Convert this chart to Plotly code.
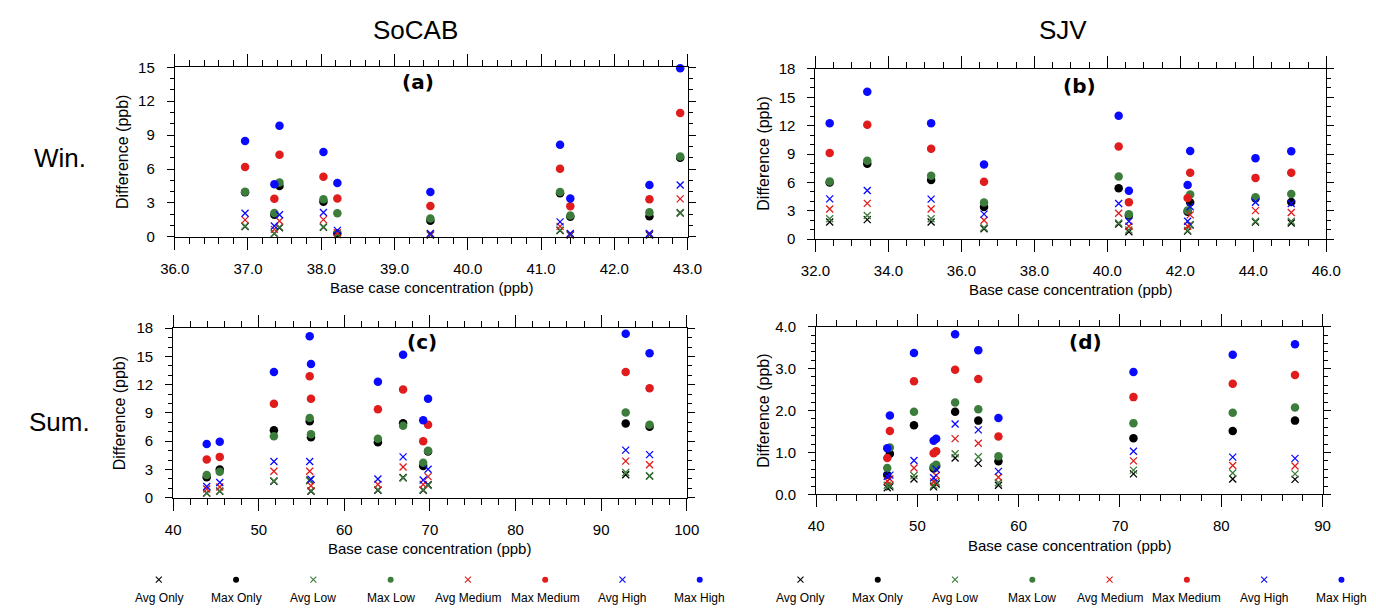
import plotly.graph_objects as go

# ---------------- data ----------------
series_names = ["Avg Only", "Max Only", "Avg Low", "Max Low",
                "Avg Medium", "Max Medium", "Avg High", "Max High"]

# (a) SoCAB winter
a_x = [36.96, 37.36, 37.43, 38.03, 38.22, 39.49, 41.26, 41.40, 42.48, 42.90]
a_avg_only = [0.90, 0.28, 0.80, 0.85, 0.20, 0.15, 0.55, 0.15, 0.15, 2.10]
a_max_only = [3.95, 1.95, 4.50, 3.10, 0.30, 1.43, 3.85, 1.78, 1.81, 7.00]
a_avg_low = [0.95, 0.32, 0.86, 0.89, 0.22, 0.20, 0.60, 0.20, 0.20, 2.15]
a_max_low = [3.99, 2.10, 4.80, 3.33, 2.09, 1.63, 3.96, 1.89, 2.18, 7.11]
a_avg_med = [1.50, 0.66, 1.40, 1.52, 0.37, 0.25, 0.92, 0.25, 0.25, 3.36]
a_max_med = [6.17, 3.36, 7.26, 5.31, 3.38, 2.72, 6.02, 2.70, 3.33, 10.95]
a_avg_high = [2.09, 0.95, 1.95, 2.15, 0.57, 0.30, 1.32, 0.30, 0.30, 4.59]
a_max_high = [8.49, 4.65, 9.84, 7.51, 4.76, 3.96, 8.14, 3.38, 4.59, 14.91]

# (b) SJV winter
b_x = [32.39, 33.42, 35.17, 36.62, 40.31, 40.59, 42.20, 42.27, 44.06, 45.04]
b_avg_only = [1.82, 2.06, 1.82, 1.10, 1.60, 0.79, 0.85, 1.50, 1.80, 1.71]
b_max_only = [6.00, 7.97, 6.25, 3.40, 5.38, 2.50, 2.90, 3.87, 4.30, 3.94]
b_avg_low = [2.16, 2.50, 2.16, 1.20, 1.71, 0.96, 0.93, 1.54, 1.89, 1.89]
b_max_low = [6.11, 8.28, 6.70, 3.88, 6.62, 2.64, 3.02, 4.73, 4.42, 4.77]
b_avg_med = [3.19, 3.78, 3.19, 1.99, 2.74, 1.37, 1.37, 2.57, 3.02, 2.81]
b_max_med = [9.10, 12.09, 9.55, 6.08, 9.80, 3.91, 4.35, 7.03, 6.48, 7.03]
b_avg_high = [4.26, 5.15, 4.23, 2.65, 3.77, 1.89, 1.89, 3.43, 3.91, 3.77]
b_max_high = [12.26, 15.60, 12.26, 7.90, 13.06, 5.11, 5.72, 9.32, 8.57, 9.29]

# (c) SoCAB summer
c_x = [43.92, 45.44, 51.77, 55.95, 56.10, 63.92, 66.86, 69.21, 69.78, 92.87, 95.66]
c_avg_only = [0.50, 0.70, 1.75, 1.86, 0.70, 0.80, 2.15, 0.80, 1.38, 2.44, 2.30]
c_max_only = [2.17, 2.99, 7.16, 8.12, 6.43, 5.88, 7.91, 3.37, 4.90, 7.88, 7.54]
c_avg_low = [0.48, 0.72, 1.79, 1.80, 0.76, 0.86, 2.10, 0.86, 1.30, 2.68, 2.34]
c_max_low = [2.41, 2.75, 6.54, 8.47, 6.74, 6.26, 7.64, 3.72, 4.99, 9.05, 7.74]
c_avg_med = [0.93, 1.14, 2.82, 2.82, 1.27, 1.41, 3.27, 1.41, 2.24, 3.89, 3.51]
c_max_med = [4.06, 4.34, 9.98, 12.90, 10.50, 9.39, 11.49, 5.99, 7.74, 13.35, 11.63]
c_avg_high = [1.20, 1.62, 3.85, 3.85, 1.96, 2.00, 4.34, 1.89, 3.03, 5.06, 4.58]
c_max_high = [5.71, 5.95, 13.35, 17.14, 14.21, 12.32, 15.18, 8.22, 10.50, 17.41, 15.35]

# (d) SJV summer
d_x = [47.02, 47.28, 49.66, 51.60, 51.85, 53.72, 56.01, 58.00, 71.33, 81.13, 87.28]
d_avg_only = [0.16, 0.18, 0.37, 0.18, 0.25, 0.87, 0.74, 0.22, 0.49, 0.37, 0.36]
d_max_only = [0.47, 0.97, 1.65, 0.62, 0.68, 1.97, 1.76, 0.79, 1.34, 1.51, 1.76]
d_avg_low = [0.22, 0.22, 0.45, 0.22, 0.30, 0.97, 0.90, 0.28, 0.58, 0.51, 0.49]
d_max_low = [0.63, 1.12, 1.97, 0.66, 0.71, 2.19, 2.03, 0.91, 1.70, 1.95, 2.07]
d_avg_med = [0.32, 0.37, 0.63, 0.30, 0.45, 1.33, 1.22, 0.41, 0.80, 0.69, 0.68]
d_max_med = [0.87, 1.51, 2.70, 0.98, 1.03, 2.97, 2.75, 1.38, 2.32, 2.64, 2.85]
d_avg_high = [0.43, 0.46, 0.81, 0.40, 0.60, 1.68, 1.54, 0.55, 1.03, 0.89, 0.86]
d_max_high = [1.10, 1.88, 3.37, 1.28, 1.33, 3.82, 3.44, 1.82, 2.92, 3.33, 3.58]

panel_labels = ["(a)", "(b)", "(c)", "(d)"]
col_titles = ["SoCAB", "SJV"]
row_titles = ["Win.", "Sum."]
x_title = "Base case concentration (ppb)"
y_title = "Difference (ppb)"

# ---------------- styling ----------------
W, H = 1376, 613
BLACK = "#000000"
GREEN = "#3c7d3c"
RED = "#e01c1c"
BLUE = "#0a0aff"
series_colors = [BLACK, BLACK, GREEN, GREEN, RED, RED, BLUE, BLUE]
series_is_max = [False, True, False, True, False, True, False, True]
FONT = "Liberation Sans"


def px_x(p):
    return p / W


def px_y(p):
    return 1 - p / H


panels = [
    dict(x=a_x, ys=[a_avg_only, a_max_only, a_avg_low, a_max_low, a_avg_med, a_max_med, a_avg_high, a_max_high],
         box=(163.3, 687.5, 60.0, 234.3), xr=[36, 43], xd=1, xm=0.2, xf=".1f", yr=[0, 15], yd=3, ym=1, yf="d"),
    dict(x=b_x, ys=[b_avg_only, b_max_only, b_avg_low, b_max_low, b_avg_med, b_max_med, b_avg_high, b_max_high],
         box=(818.3, 1340.5, 61.7, 236.7), xr=[32, 46], xd=2, xm=0.5, xf=".1f", yr=[0, 18], yd=3, ym=1, yf="d"),
    dict(x=c_x, ys=[c_avg_only, c_max_only, c_avg_low, c_max_low, c_avg_med, c_max_med, c_avg_high, c_max_high],
         box=(161.7, 686.7, 328.3, 502.7), xr=[40, 100], xd=10, xm=2, xf="d", yr=[0, 18], yd=3, ym=1, yf="d"),
    dict(x=d_x, ys=[d_avg_only, d_max_only, d_avg_low, d_max_low, d_avg_med, d_max_med, d_avg_high, d_max_high],
         box=(819.0, 1336.7, 326.7, 499.3), xr=[40, 90], xd=10, xm=2, xf="d", yr=[0, 4], yd=1, ym=0.2, yf=".1f"),
]

fig = go.Figure()
layout = dict(
    width=W, height=H,
    margin=dict(l=0, r=0, t=0, b=0),
    paper_bgcolor="white", plot_bgcolor="rgba(0,0,0,0)",
    showlegend=False,
    font=dict(family=FONT, color="black"),
)
annotations = []


def axis_style(rng, dtick, mdtick, fmt, domain, anchor, ticklen, mlen, standoff):
    return dict(
        domain=domain, anchor=anchor, range=rng, dtick=dtick, tick0=rng[0],
        tickformat=fmt, showline=True, linecolor="black", linewidth=1,
        mirror="allticks", ticks="outside", ticklen=ticklen, tickwidth=1, tickcolor="black",
        ticklabelstandoff=standoff,
        showgrid=False, zeroline=False,
        tickfont=dict(family=FONT, size=15, color="black"),
        minor=dict(dtick=mdtick, tick0=rng[0], ticks="outside", ticklen=mlen,
                   tickwidth=1, tickcolor="black", showgrid=False),
        fixedrange=True,
    )


for i, p in enumerate(panels):
    n = i + 1
    xs = "x" if n == 1 else f"x{n}"
    ys_ = "y" if n == 1 else f"y{n}"
    xkey = "xaxis" if n == 1 else f"xaxis{n}"
    ykey = "yaxis" if n == 1 else f"yaxis{n}"
    l, r, t, b = p["box"]
    layout[xkey] = axis_style(p["xr"], p["xd"], p["xm"], p["xf"], [px_x(l), px_x(r)], ys_, 12, 6, 6)
    layout[ykey] = axis_style(p["yr"], p["yd"], p["ym"], p["yf"], [px_y(b), px_y(t)], xs, 7, 4, 9)
    for k, vals in enumerate(p["ys"]):
        if series_is_max[k]:
            marker = dict(symbol="circle", size=8.5, color=series_colors[k], line=dict(width=0))
        else:
            marker = dict(symbol="x-thin", size=7, color=series_colors[k],
                          line=dict(width=1.3, color=series_colors[k]))
        fig.add_trace(go.Scatter(x=p["x"], y=vals, mode="markers", marker=marker,
                                 name=series_names[k], xaxis=xs, yaxis=ys_, cliponaxis=False))
    # axis titles
    annotations.append(dict(text=x_title, x=px_x((l + r) / 2), y=px_y(b + 52), xref="paper", yref="paper",
                            xanchor="center", yanchor="middle", showarrow=False,
                            font=dict(family=FONT, size=15, color="black")))
    annotations.append(dict(text=y_title, x=px_x(l - 54), y=px_y((t + b) / 2), xref="paper", yref="paper",
                            xanchor="center", yanchor="middle", showarrow=False, textangle=-90,
                            font=dict(family=FONT, size=16, color="black")))

# panel labels
label_pos = [(412, 75), (1088, 79), (416, 343), (1094, 343)]
for lab, (lx, ly) in zip(panel_labels, label_pos):
    annotations.append(dict(text=f"<b>{lab}</b>", x=px_x(lx), y=px_y(ly), xref="paper", yref="paper",
                            xanchor="center", yanchor="middle", showarrow=False,
                            font=dict(family="DejaVu Sans", size=20, color="black")))

# column and row titles
for txt, cx in zip(col_titles, [409, 1071]):
    annotations.append(dict(text=txt, x=px_x(cx), y=px_y(22), xref="paper", yref="paper",
                            xanchor="center", yanchor="middle", showarrow=False,
                            font=dict(family=FONT, size=26, color="black")))
for txt, cy in zip(row_titles, [153, 425]):
    annotations.append(dict(text=txt, x=px_x(46), y=px_y(cy), xref="paper", yref="paper",
                            xanchor="center", yanchor="middle", showarrow=False,
                            font=dict(family=FONT, size=26, color="black")))

# legends (two identical rows, one under each column), drawn on an overlay pixel axis
layout["xaxis5"] = dict(domain=[0, 1], range=[0, W], visible=False, anchor="y5", fixedrange=True)
layout["yaxis5"] = dict(domain=[0, 1], range=[H, 0], visible=False, anchor="x5", fixedrange=True)
legend_starts = [147.0, 803.0]
legend_step = 79.0
sym_y, txt_y = 587, 606
for k, name in enumerate(series_names):
    lxs = [s + k * legend_step for s in legend_starts]
    if series_is_max[k]:
        marker = dict(symbol="circle", size=6, color=series_colors[k], line=dict(width=0))
    else:
        marker = dict(symbol="x-thin", size=6, color=series_colors[k],
                      line=dict(width=1.1, color=series_colors[k]))
    fig.add_trace(go.Scatter(x=lxs, y=[sym_y, sym_y], mode="markers", marker=marker,
                             xaxis="x5", yaxis="y5", cliponaxis=False, hoverinfo="skip"))
    for lx in lxs:
        annotations.append(dict(text=name, x=lx, y=txt_y, xref="x5", yref="y5",
                                xanchor="center", yanchor="middle", showarrow=False,
                                font=dict(family=FONT, size=12, color="black")))

layout["annotations"] = annotations
fig.update_layout(**layout)
fig.write_html("out.html", config={"displayModeBar": False},
               post_script="document.body.style.margin='0px';document.body.style.overflow='hidden';")
